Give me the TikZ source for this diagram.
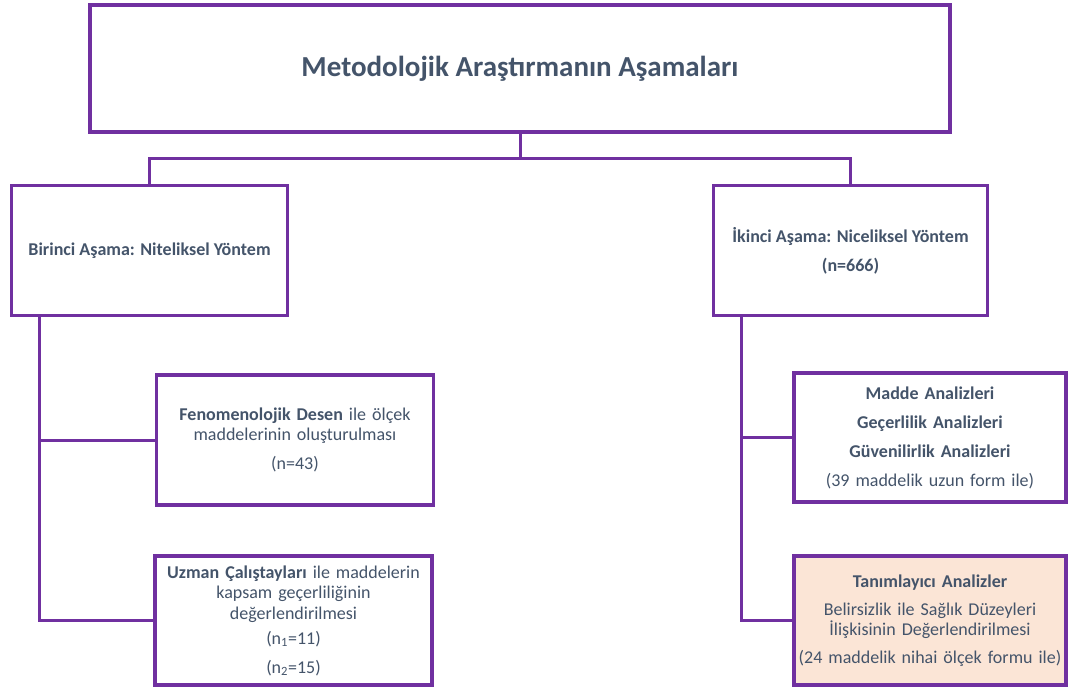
\documentclass[tikz,border=0pt]{standalone}
\usepackage{fontspec}
\setmainfont{Carlito}
\definecolor{frame}{HTML}{7030A0}
\definecolor{txt}{HTML}{44546A}
\definecolor{peach}{HTML}{FBE5D6}
\begin{document}
\begin{tikzpicture}[x=1pt,y=-1pt,
  box/.style={draw=frame,line width=3.6pt,fill=white,inner sep=0pt,align=center,text=txt,
    font=\fontsize{18}{20.5}\selectfont},
  conn/.style={draw=frame,line width=3pt}]
\useasboundingbox (0,0) rectangle (1068,690);
\node[box,minimum width=860pt,minimum height=127pt,font=\fontsize{29}{32}\selectfont\bfseries] (top) at (520,68.5) {Metodolojik Araştırmanın Aşamaları};
\node[box,minimum width=276pt,minimum height=130pt] (L1) at (149.5,250.5) {\textbf{Birinci Aşama: Niteliksel Yöntem}};
\node[box,minimum width=274pt,minimum height=130pt] (R1) at (850.5,250.5) {\textbf{İkinci Aşama: Niceliksel Yöntem}\\[8.5pt]\textbf{(n=666)}};
\node[box,minimum width=277pt,minimum height=130pt,text width=270pt] (L2) at (295,440) {\textbf{Fenomenolojik Desen} ile ölçek\\maddelerinin oluşturulması\\[8.5pt](n=43)};
\node[box,minimum width=277pt,minimum height=129pt,text width=270pt] (L3) at (293.5,620.5) {\textbf{Uzman Çalıştayları} ile maddelerin\\kapsam geçerliliğinin\\değerlendirilmesi\\[4.5pt](n\textsubscript{1}=11)\\[8.5pt](n\textsubscript{2}=15)};
\node[box,minimum width=272pt,minimum height=129pt,text width=268pt] (R2) at (930,437.5) {\textbf{Madde Analizleri}\\[8.5pt]\textbf{Geçerlilik Analizleri}\\[8.5pt]\textbf{Güvenilirlik Analizleri}\\[8.5pt](39 maddelik uzun form ile)};
\node[box,fill=peach,minimum width=272pt,minimum height=129pt,text width=268pt] (R3) at (930,620.5) {\textbf{Tanımlayıcı Analizler}\\[7.5pt]Belirsizlik ile Sağlık Düzeyleri\\İlişkisinin Değerlendirilmesi\\[7.5pt](24 maddelik nihai ölçek formu ile)};
\coordinate (j) at (520,158);
\draw[conn] (top.south) -- (j) -| (L1.north);
\draw[conn] (j) -| (R1.north);
\draw[conn] ([xshift=-110.5pt]L1.south) |- (L2.west);
\draw[conn] ([xshift=-110.5pt]L1.south) |- (L3.west);
\draw[conn] ([xshift=-109.5pt]R1.south) |- (R2.west);
\draw[conn] ([xshift=-109.5pt]R1.south) |- (R3.west);
\end{tikzpicture}
\end{document}
